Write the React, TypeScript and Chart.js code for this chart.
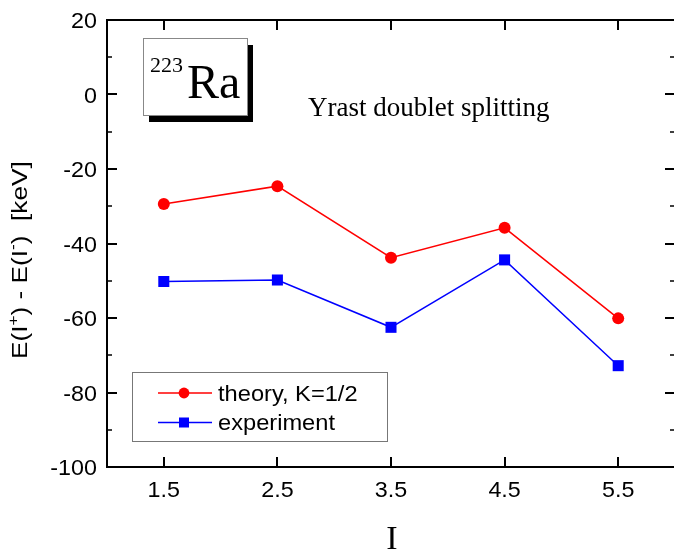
import React, { useEffect, useRef } from "react";
import { Chart, registerables } from "chart.js";

Chart.register(...registerables);

const iValues = [1.5, 2.5, 3.5, 4.5, 5.5];
const theory = [-29.4, -24.6, -43.8, -35.8, -60.1];
const experiment = [-50.2, -49.8, -62.5, -44.4, -72.8];
const xTicks = [1.5, 2.5, 3.5, 4.5, 5.5];
const yTicks = [-100, -80, -60, -40, -20, 0, 20];
const yMinorTicks = [-90, -70, -50, -30, -10, 10];
const seriesLabels = ["theory, K=1/2", "experiment"];
const xTitle = "I";
const nucleusMass = "223";
const nucleusName = "Ra";
const annotationText = "Yrast doublet splitting";

const SANS = "'Liberation Sans', Arial, sans-serif";
const SERIF = "'Liberation Serif', 'Times New Roman', serif";

function stretchText(ctx: CanvasRenderingContext2D, text: string, x: number, y: number, align: CanvasTextAlign, sx: number) {
  ctx.save();
  ctx.translate(x, y);
  ctx.scale(sx, 1);
  ctx.textAlign = align;
  ctx.fillText(text, 0, 0);
  ctx.restore();
}

const decorPlugin = {
  id: "decor",
  afterDraw(chart: any) {
    const ctx: CanvasRenderingContext2D = chart.ctx;
    const { left, right, top, bottom } = chart.chartArea;
    const xs = chart.scales.x;
    const ys = chart.scales.y;
    ctx.save();
    ctx.strokeStyle = "#000";
    ctx.fillStyle = "#000";
    // frame
    ctx.lineWidth = 2;
    ctx.beginPath();
    ctx.moveTo(left, top);
    ctx.lineTo(right, top);
    ctx.lineTo(right, bottom);
    ctx.lineTo(left, bottom);
    ctx.closePath();
    ctx.stroke();
    // major ticks
    ctx.beginPath();
    yTicks.forEach((v) => {
      const p = Math.round(ys.getPixelForValue(v));
      ctx.moveTo(left, p); ctx.lineTo(left + 10, p);
      ctx.moveTo(right, p); ctx.lineTo(right - 10, p);
    });
    xTicks.forEach((v) => {
      const p = Math.round(xs.getPixelForValue(v));
      ctx.moveTo(p, bottom); ctx.lineTo(p, bottom - 10);
      ctx.moveTo(p, top); ctx.lineTo(p, top + 10);
    });
    ctx.stroke();
    // minor ticks
    ctx.lineWidth = 1.6;
    ctx.beginPath();
    yMinorTicks.forEach((v) => {
      const p = Math.round(ys.getPixelForValue(v));
      ctx.moveTo(left, p); ctx.lineTo(left + 5, p);
      ctx.moveTo(right, p); ctx.lineTo(right - 5, p);
    });
    ctx.stroke();

    // tick labels
    ctx.font = `22px ${SANS}`;
    ctx.textBaseline = "alphabetic";
    yTicks.forEach((v) => {
      const p = ys.getPixelForValue(v);
      stretchText(ctx, String(v), left - 10, p + 8, "right", 1.06);
    });
    xTicks.forEach((v) => {
      const p = xs.getPixelForValue(v);
      stretchText(ctx, v.toFixed(1), p, 497, "center", 1.06);
    });

    // x title
    ctx.font = `34px ${SERIF}`;
    ctx.textAlign = "center";
    ctx.fillText(xTitle, (left + 675) / 2 + 1, 549);

    // y title (rotated, with superscripts)
    ctx.save();
    ctx.translate(27, 359);
    ctx.rotate(-Math.PI / 2);
    ctx.scale(1.22, 1);
    ctx.textAlign = "left";
    let cx = 0;
    const part = (t: string, size: number, dy: number) => {
      ctx.font = `${size}px ${SANS}`;
      ctx.fillText(t, cx, dy);
      cx += ctx.measureText(t).width;
    };
    part("E(I", 21.5, 0);
    part("+", 14, -9);
    part(") - E(I", 21.5, 0);
    part("-", 14, -9);
    part(")  [keV]", 21.5, 0);
    ctx.restore();

    // nucleus box with shadow
    ctx.fillStyle = "#000";
    ctx.fillRect(149, 45, 104, 77);
    ctx.fillStyle = "#fff";
    ctx.fillRect(143, 38, 104, 77);
    ctx.strokeStyle = "#888";
    ctx.lineWidth = 1;
    ctx.strokeRect(143.5, 38.5, 104, 77);
    ctx.fillStyle = "#000";
    ctx.textAlign = "left";
    ctx.font = `22px ${SERIF}`;
    ctx.fillText(nucleusMass, 150, 72);
    ctx.font = `48px ${SERIF}`;
    ctx.fillText(nucleusName, 187, 98);

    // annotation
    ctx.font = `27px ${SERIF}`;
    ctx.fillText(annotationText, 308, 116);

    // legend
    ctx.fillStyle = "#fff";
    ctx.fillRect(132, 372, 255, 69);
    ctx.strokeStyle = "#777";
    ctx.lineWidth = 1;
    ctx.strokeRect(132.5, 372.5, 255, 69);
    chart.data.datasets.forEach((ds: any, i: number) => {
      const y = 393 + i * 29.5;
      ctx.strokeStyle = ds.borderColor;
      ctx.lineWidth = 1.5;
      ctx.beginPath();
      ctx.moveTo(158, y);
      ctx.lineTo(212, y);
      ctx.stroke();
      ctx.fillStyle = ds.borderColor;
      if (ds.pointStyle === "circle") {
        ctx.beginPath();
        ctx.arc(184, y, 5.4, 0, Math.PI * 2);
        ctx.fill();
      } else {
        ctx.fillRect(184 - 5, y - 5, 10, 10);
      }
      ctx.fillStyle = "#000";
      ctx.font = `21.5px ${SANS}`;
      stretchText(ctx, ds.label, 218, y + 7.5, "left", 1.1);
    });
    ctx.restore();
  },
};

export default function App() {
  const ref = useRef<HTMLCanvasElement>(null);
  useEffect(() => {
    if (!ref.current) return;
    const chart = new Chart(ref.current, {
      type: "line",
      data: {
        datasets: [
          {
            label: seriesLabels[0],
            data: iValues.map((x, i) => ({ x, y: theory[i] })),
            borderColor: "#ff0000",
            backgroundColor: "#ff0000",
            borderWidth: 1.5,
            pointStyle: "circle",
            pointRadius: 6,
            pointBorderWidth: 0,
            pointBackgroundColor: "#ff0000",
          },
          {
            label: seriesLabels[1],
            data: iValues.map((x, i) => ({ x, y: experiment[i] })),
            borderColor: "#0000ff",
            backgroundColor: "#0000ff",
            borderWidth: 1.5,
            pointStyle: "rect",
            pointRadius: 7.8,
            pointBorderWidth: 0,
            pointBackgroundColor: "#0000ff",
          },
        ],
      },
      options: {
        responsive: false,
        animation: false,
        layout: { autoPadding: false, padding: { top: 20, right: 5, left: 0, bottom: 0 } },
        plugins: { legend: { display: false }, tooltip: { enabled: false } },
        scales: {
          x: {
            type: "linear",
            min: 1,
            max: 6,
            grid: { display: false, drawTicks: false },
            border: { display: false },
            ticks: { display: false },
            afterFit: (s: any) => { s.height = 85; },
          },
          y: {
            type: "linear",
            min: -100,
            max: 20,
            grid: { display: false, drawTicks: false },
            border: { display: false },
            ticks: { display: false },
            afterFit: (s: any) => { s.width = 107; },
          },
        },
      },
      plugins: [decorPlugin],
    });
    return () => chart.destroy();
  }, []);
  return (
    <div style={{ position: "absolute", left: 0, top: 0, width: 674, height: 552, overflow: "hidden", background: "#fff" }}>
      <canvas ref={ref} width={680} height={552} style={{ width: 680, height: 552, display: "block" }} />
    </div>
  );
}
